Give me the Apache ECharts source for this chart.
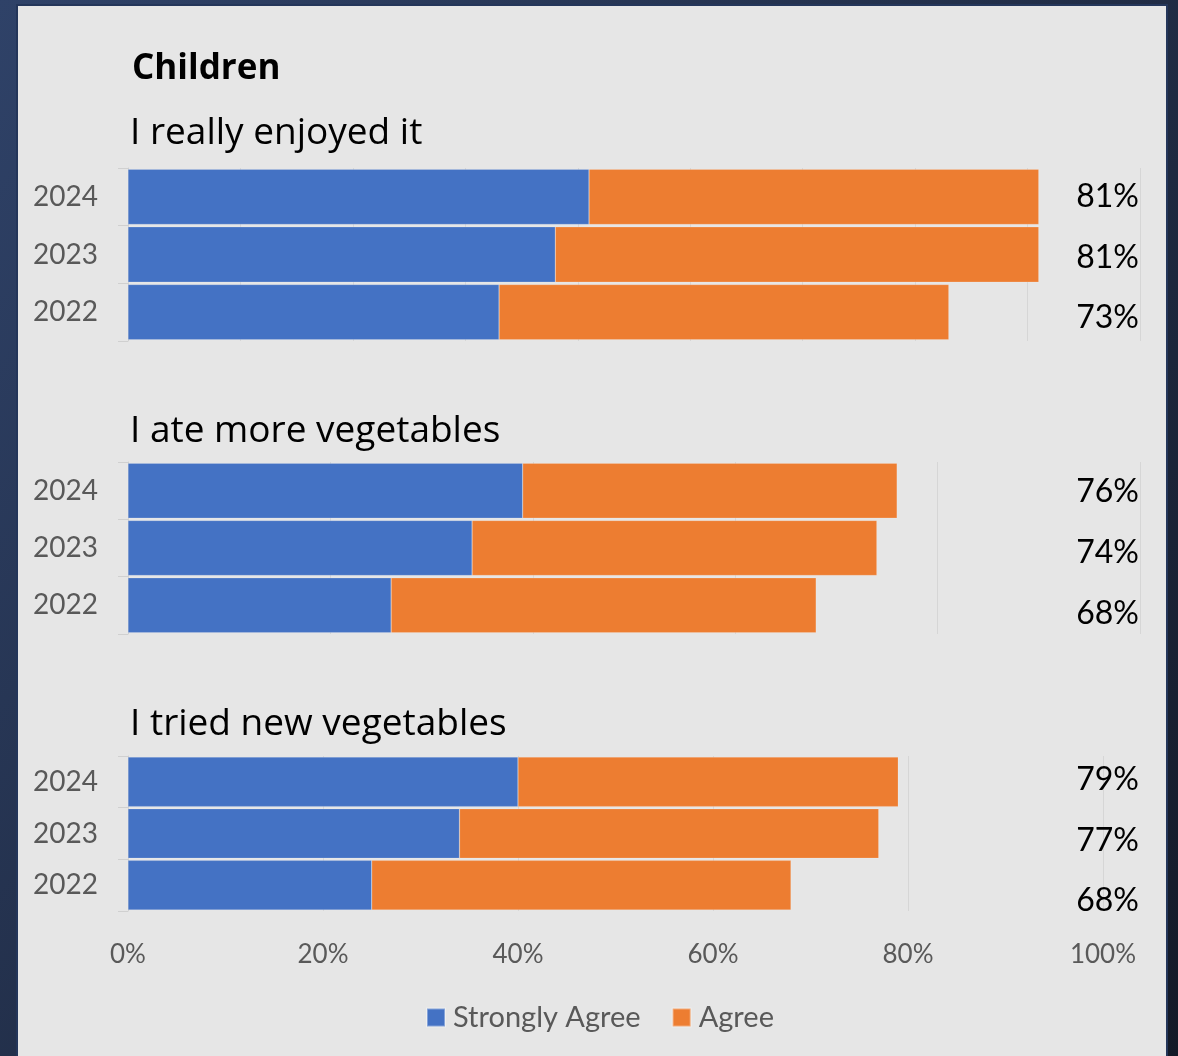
<!DOCTYPE html>
<html>
<head>
<meta charset="utf-8">
<script src="https://cdn.jsdelivr.net/npm/echarts@6/dist/echarts.min.js"></script>
<style>
html,body{margin:0;padding:0;width:1178px;height:1056px;overflow:hidden;background:#1d2740;}
#chart{width:1178px;height:1056px;}
</style>
</head>
<body>
<div id="chart"></div>
<script>
// ---- data ----
var mainTitle = 'Children';
var panelTitles = ['I really enjoyed it', 'I ate more vegetables', 'I tried new vegetables'];
var years = ['2022', '2023', '2024'];
var seriesNames = ['Strongly Agree', 'Agree'];
var stronglyAgree = [
  [33, 38, 41],
  [26, 34, 39],
  [25, 34, 40]
];
var agree = [
  [40, 43, 40],
  [42, 40, 37],
  [43, 43, 39]
];
var axisMax = [90, 100, 100];
var axisInterval = [10, 20, 20];

// ---- layout ----
var W = 1178;
var barGrids = [
  {left: 128, right: W - 1140, top: 168, height: 173},
  {left: 128, right: W - 1140, top: 462, height: 172},
  {left: 128, right: W - 1103, top: 756, height: 155}
];
var labelGrids = [
  {left: 1139, width: 1, top: 167, height: 181},
  {left: 1139, width: 1, top: 461, height: 183},
  {left: 1139, width: 1, top: 750, height: 181}
];
var titleY = [133, 431, 724];

var BLUE = '#4472c4', ORANGE = '#ed7d31';
var GRID_C = '#d6d6d6';
var FONT = 'Lato, "Open Sans", sans-serif';
var TFONT = '"Open Sans", Lato, sans-serif';

var grids = [], xAxes = [], yAxes = [], series = [];
for (var i = 0; i < 3; i++) {
  grids.push(Object.assign({containLabel: false}, barGrids[i]));
  xAxes.push({
    type: 'value', gridIndex: i, min: 0, max: axisMax[i], interval: axisInterval[i],
    axisLine: {show: false}, axisTick: {show: false},
    splitLine: {show: true, lineStyle: {color: GRID_C, width: 1}},
    axisLabel: {
      show: i === 2, formatter: '{value}%', color: '#595959',
      fontFamily: FONT, fontSize: 26, margin: 31
    }
  });
  yAxes.push({
    type: 'category', gridIndex: i, data: years,
    axisLine: {show: true, lineStyle: {color: '#d0d0d0', width: 1}},
    axisTick: {show: true, length: 10, lineStyle: {color: '#d0d0d0'}},
    axisLabel: {color: '#595959', fontFamily: FONT, fontSize: 28, margin: 30}
  });
  series.push({
    name: seriesNames[0], type: 'bar', stack: 'p' + i, xAxisIndex: i, yAxisIndex: i,
    data: stronglyAgree[i], barCategoryGap: '4%',
    itemStyle: {color: BLUE, borderColor: 'rgba(255,255,255,0.35)', borderWidth: 0.5},
    emphasis: {disabled: true}
  });
  series.push({
    name: seriesNames[1], type: 'bar', stack: 'p' + i, xAxisIndex: i, yAxisIndex: i,
    data: agree[i], barCategoryGap: '4%',
    itemStyle: {color: ORANGE, borderColor: 'rgba(255,255,255,0.35)', borderWidth: 0.5},
    emphasis: {disabled: true}
  });
}
// total labels on the right
for (var j = 0; j < 3; j++) {
  grids.push(labelGrids[j]);
  xAxes.push({type: 'value', gridIndex: 3 + j, show: false, min: 0, max: 1});
  (function (k) {
    yAxes.push({
      type: 'category', gridIndex: 3 + k, data: years, position: 'left',
      axisLine: {show: false}, axisTick: {show: false}, splitLine: {show: false},
      axisLabel: {
        margin: 0, color: '#000000', fontFamily: FONT, fontSize: 32,
        formatter: function (v, idx) { return (stronglyAgree[k][idx] + agree[k][idx]) + '%'; }
      }
    });
  })(j);
}

var graphics = [
  {type: 'rect', shape: {x: 17, y: 5, width: 1150, height: 1060},
   style: {fill: '#e6e6e6', stroke: '#24365a', lineWidth: 2}, z: -10, silent: true},
  {type: 'text', x: 132, y: 69, style: {text: mainTitle, font: 'bold 35px ' + TFONT,
   fill: '#000000', verticalAlign: 'middle', align: 'left'}}
];
for (var t = 0; t < 3; t++) {
  graphics.push({type: 'text', x: 130, y: titleY[t], style: {text: panelTitles[t],
    font: '37px ' + TFONT, fill: '#000000', verticalAlign: 'middle', align: 'left'}});
}

var option = {
  backgroundColor: {
    type: 'linear', x: 0, y: 0, x2: 1, y2: 1,
    colorStops: [{offset: 0, color: '#2f4268'}, {offset: 1, color: '#141a28'}]
  },
  animation: false,
  graphic: graphics,
  grid: grids,
  xAxis: xAxes,
  yAxis: yAxes,
  legend: {
    data: seriesNames, left: 421, top: 998, icon: 'rect',
    itemWidth: 18, itemHeight: 18, itemGap: 31,
    textStyle: {color: '#595959', fontFamily: FONT, fontSize: 29, padding: [0, 0, 0, 3]}
  },
  series: series
};
var chart = echarts.init(document.getElementById('chart'));
chart.setOption(option);
</script>
</body>
</html>
